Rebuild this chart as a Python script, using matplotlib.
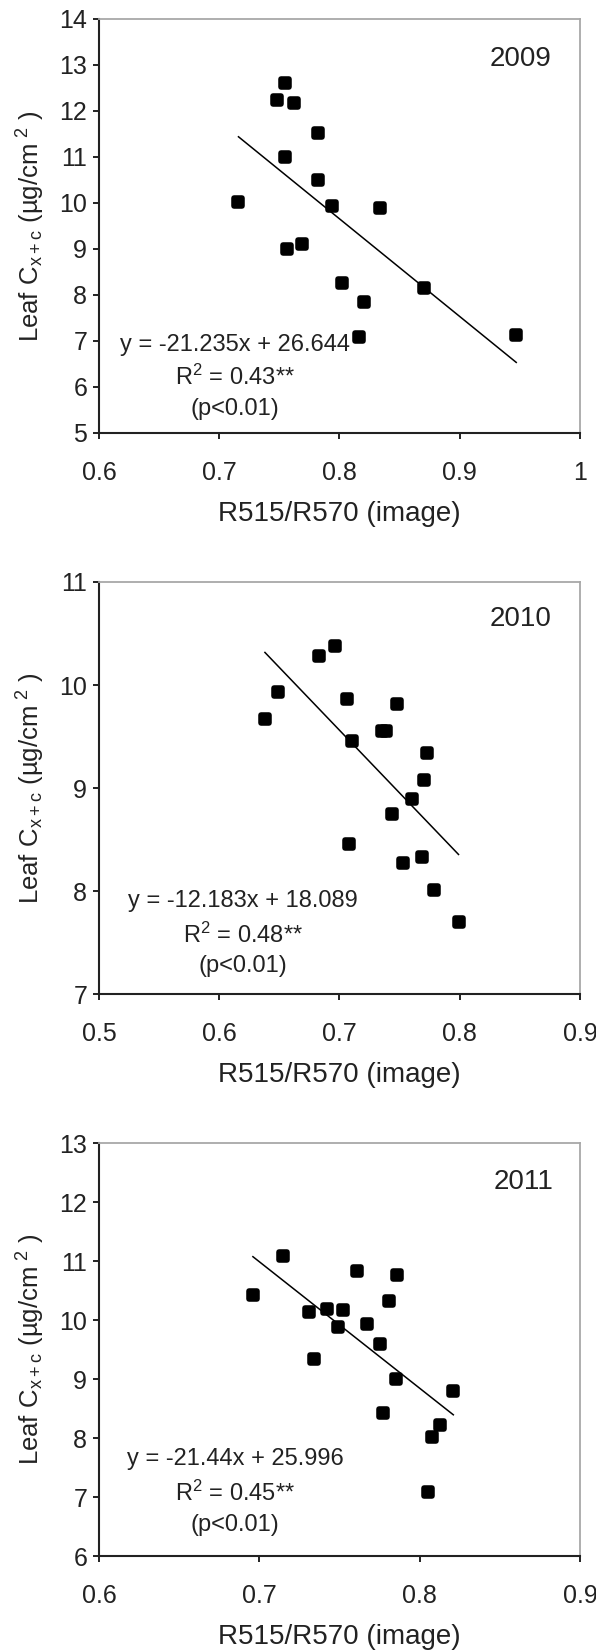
import matplotlib
matplotlib.use('Agg')
import matplotlib.pyplot as plt
from matplotlib.markers import MarkerStyle
import numpy as np

plt.rcParams['font.family'] = ['Liberation Sans', 'DejaVu Sans']
plt.rcParams['mathtext.default'] = 'regular'

# 2009
x_2009 = [0.716, 0.755, 0.748, 0.762, 0.782, 0.755, 0.782, 0.794,
          0.834, 0.756, 0.769, 0.802, 0.820, 0.816, 0.870, 0.947]
y_2009 = [10.03, 12.61, 12.24, 12.18, 11.52, 11.01, 10.49, 9.94,
          9.90, 9.01, 9.10, 8.25, 7.84, 7.09, 8.16, 7.13]
# 2010
x_2010 = [0.638, 0.649, 0.683, 0.696, 0.706, 0.710, 0.748, 0.735,
          0.739, 0.773, 0.770, 0.760, 0.744, 0.708, 0.753, 0.769,
          0.779, 0.799]
y_2010 = [9.67, 9.93, 10.28, 10.38, 9.86, 9.46, 9.82, 9.55,
          9.55, 9.34, 9.08, 8.89, 8.75, 8.46, 8.27, 8.33,
          8.01, 7.70]
# 2011
x_2011 = [0.696, 0.715, 0.731, 0.742, 0.752, 0.749, 0.734, 0.761,
          0.767, 0.781, 0.786, 0.775, 0.785, 0.777, 0.821, 0.813,
          0.808, 0.805]
y_2011 = [10.43, 11.09, 10.13, 10.18, 10.17, 9.88, 9.34, 10.83,
          9.93, 10.32, 10.76, 9.60, 9.00, 8.43, 8.80, 8.22,
          8.02, 7.08]

years = ['2009', '2010', '2011']
slopes = [-21.235, -12.183, -21.44]
intercepts = [26.644, 18.089, 25.996]
r2_labels = ['0.43**', '0.48**', '0.45**']
eq_labels = ['y = -21.235x + 26.644', 'y = -12.183x + 18.089', 'y = -21.44x + 25.996']
xlims = [(0.6, 1.0), (0.5, 0.9), (0.6, 0.9)]
ylims = [(5, 14), (7, 11), (6, 13)]
xticks = [[0.6, 0.7, 0.8, 0.9, 1.0], [0.5, 0.6, 0.7, 0.8, 0.9], [0.6, 0.7, 0.8, 0.9]]
xticklabels = [['0.6', '0.7', '0.8', '0.9', '1'], ['0.5', '0.6', '0.7', '0.8', '0.9'],
               ['0.6', '0.7', '0.8', '0.9']]
xs = [x_2009, x_2010, x_2011]
ys = [y_2009, y_2010, y_2011]

fig = plt.figure(figsize=(5.96, 16.52), dpi=100)
rects = [[0.1661, 0.7379, 0.807, 0.2506],
         [0.1661, 0.3983, 0.807, 0.2494],
         [0.1661, 0.0581, 0.807, 0.2500]]
eq_pos = [(0.282, [0.213, 0.135, 0.058]),
          (0.300, [0.225, 0.142, 0.068]),
          (0.283, [0.235, 0.153, 0.075])]
year_pos = [(0.877, 0.903), (0.877, 0.911), (0.883, 0.905)]

dark = '#222222'
sq = MarkerStyle('s', joinstyle='round')
for i in range(3):
    ax = fig.add_axes(rects[i])
    ax.plot(xs[i], ys[i], linestyle='none', marker=sq, color='black', markersize=5.5,
            markeredgewidth=4.0, markeredgecolor='black', markerfacecolor='black')
    lx = np.array([min(xs[i]), max(xs[i])])
    ax.plot(lx, slopes[i] * lx + intercepts[i], color='black', lw=1.1)
    ax.set_xlim(*xlims[i])
    ax.set_ylim(*ylims[i])
    ax.set_xticks(xticks[i])
    ax.set_xticklabels(xticklabels[i])
    ax.set_yticks(np.arange(ylims[i][0], ylims[i][1] + 1))
    ax.tick_params(direction='out', length=4.5, width=1.4, labelsize=18,
                   colors=dark, pad=4)
    ax.tick_params(axis='x', pad=16)
    for s in ['left', 'bottom']:
        ax.spines[s].set_color(dark)
        ax.spines[s].set_linewidth(1.5)
    for s in ['top', 'right']:
        ax.spines[s].set_color('#a8a8a8')
        ax.spines[s].set_linewidth(1.3)
    ax.set_xlabel('R515/R570 (image)', fontsize=20, color=dark, labelpad=11)
    ax.set_ylabel(r'Leaf C$_{x+c}$ (µg/cm$^{\ 2}$ )', fontsize=18.5, color=dark, labelpad=9)
    ax.text(year_pos[i][0], year_pos[i][1], years[i], transform=ax.transAxes,
            fontsize=20, color=dark, ha='center', va='center')
    ex, eys = eq_pos[i]
    ax.text(ex, eys[0], eq_labels[i], transform=ax.transAxes, fontsize=17,
            color=dark, ha='center', va='center')
    ax.text(ex, eys[1], 'R$^{2}$ = ' + r2_labels[i], transform=ax.transAxes,
            fontsize=17, color=dark, ha='center', va='center')
    ax.text(ex, eys[2], '(p<0.01)', transform=ax.transAxes, fontsize=17,
            color=dark, ha='center', va='center')

plt.savefig('out.png', dpi=100)
